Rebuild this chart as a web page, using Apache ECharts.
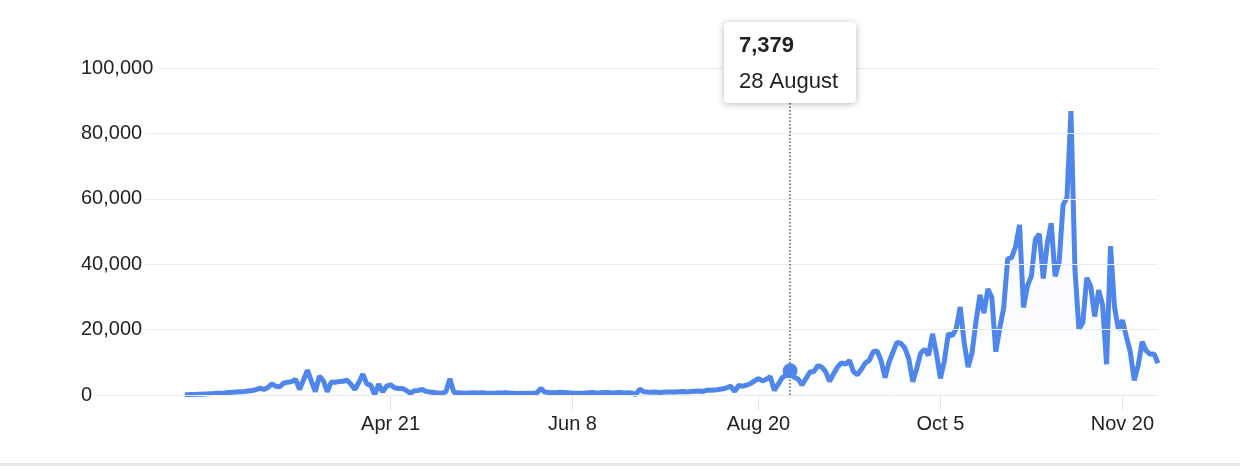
<!DOCTYPE html>
<html><head><meta charset="utf-8">
<script src="https://cdn.jsdelivr.net/npm/echarts@6/dist/echarts.min.js"></script>
<style>html,body{margin:0;padding:0;background:#fff}#c{width:1240px;height:466px}</style>
</head><body><div id="c"></div>
<script>
// Daily values, one per reported day (index 0 .. 246)
const values = [
  100,130,170,200,250,300,350,420,500,560,
  650,750,820,900,1000,1100,1250,1400,1600,2100,
  1700,2300,3400,2700,2500,3700,3900,4100,4800,1700,
  4600,7600,4200,1000,5800,4400,1000,4000,3900,4100,
  4200,4500,3300,1700,3900,6400,3400,3000,100,3300,
  1000,2700,3100,2200,2000,2000,1400,500,1300,1400,
  1700,1100,900,800,600,500,1000,5000,800,700,
  600,500,600,700,650,700,600,550,500,600,
  650,700,600,550,450,500,450,500,450,700,
  2000,900,800,700,750,850,800,700,650,500,
  550,600,700,750,650,700,800,750,650,700,
  750,650,700,600,100,1800,1000,900,850,900,
  800,850,900,950,900,1000,1050,950,1100,1150,
  1200,1100,1500,1450,1500,1700,1900,2200,2700,1100,
  2900,2700,3000,3500,4300,5000,4300,4800,5600,1400,
  3300,5300,6100,7379,5453,4897,3082,4982,7017,7157,
  8975,8550,7071,4203,6544,8577,9843,9406,10561,7183,
  6158,7852,9784,10593,13215,13498,10569,5298,10008,13072,
  16096,15797,14412,11123,4070,8051,12845,13970,12148,18700,
  12565,5084,10489,18746,18129,20339,26896,16101,8505,12993,
  22591,30621,25086,32427,29837,13243,20468,26676,41622,42032,
  45422,52010,26771,33417,36437,47637,49215,35641,46290,52518,
  36330,40558,58046,60486,86852,38619,20155,22180,35879,33172,
  24000,32095,27500,9406,45522,27000,20000,22882,17881,13157,
  4452,9155,16282,13563,12459,12580,9700
];
const tickIndex  = [52, 98, 145, 191, 237];
const tickLabels = ['Apr 21', 'Jun 8', 'Aug 20', 'Oct 5', 'Nov 20'];
const yMax = 100000, yStep = 20000;
const hlIndex = 153;
const hlLabel = '28 August';

const FONT = '"Liberation Sans", Arial, Helvetica, sans-serif';
const BLUE = '#4f86ec';
const fmt = v => Number(v).toLocaleString('en-US');

const chart = echarts.init(document.getElementById('c'), null, {renderer: 'canvas'});
const lineData = values.map((v, i) => [i, v]);

chart.setOption({
  animation: false,
  backgroundColor: '#fff',
  grid: {left: 80, right: 82, top: 68, bottom: 71},
  xAxis: {
    type: 'value',
    min: -26.5,
    max: values.length - 1,
    axisLine: {show: false},
    splitLine: {show: false},
    axisTick: {show: true, customValues: tickIndex, length: 15, lineStyle: {color: '#e3e3e3', width: 1}},
    axisLabel: {
      customValues: tickIndex,
      margin: 19,
      color: '#222',
      fontSize: 20,
      fontFamily: FONT,
      formatter: v => tickLabels[tickIndex.indexOf(Math.round(v))] || ''
    }
  },
  yAxis: {
    type: 'value',
    min: 0, max: yMax, interval: yStep,
    axisLine: {show: false},
    axisTick: {show: false},
    splitLine: {lineStyle: {color: '#ebebeb', width: 1}},
    axisLabel: {
      inside: true,
      margin: 1,
      color: '#222',
      fontSize: 20,
      fontFamily: FONT,
      backgroundColor: '#fff',
      padding: [2, 3, 2, 0],
      formatter: v => fmt(v)
    },
    z: 5
  },
  series: [
    {
      type: 'line',
      data: lineData,
      showSymbol: false,
      lineStyle: {color: BLUE, width: 5},
      areaStyle: {
        color: new echarts.graphic.LinearGradient(0, 0, 0, 1, [
          {offset: 0, color: 'rgba(79,134,236,0.07)'},
          {offset: 1, color: 'rgba(79,134,236,0.02)'}
        ])
      },
      markLine: {
        silent: true,
        symbol: ['none', 'none'],
        label: {show: false},
        lineStyle: {color: '#555', type: [1.5, 2], width: 1.5},
        data: [{xAxis: hlIndex}]
      },
      z: 2
    },
    {
      type: 'scatter',
      data: [[hlIndex, values[hlIndex]]],
      symbolSize: 15,
      itemStyle: {color: BLUE, opacity: 1},
      z: 6
    }
  ]
});

const p = chart.convertToPixel({gridIndex: 0}, [hlIndex, values[hlIndex]]);
const boxW = 132, boxH = 81, boxX = Math.round(p[0] - 66), boxY = 22;
chart.setOption({
  graphic: [
    {
      type: 'group', left: boxX, top: boxY, z: 100, zlevel: 1,
      children: [
        {type: 'rect', z: 100, zlevel: 1, shape: {x: 0, y: 0, width: boxW, height: boxH, r: 4},
         style: {fill: '#fff', shadowBlur: 7, shadowColor: 'rgba(0,0,0,0.28)', shadowOffsetY: 1}},
        {type: 'text', z: 101, zlevel: 1, x: 15, y: 24,
         style: {text: fmt(values[hlIndex]), font: 'bold 22px ' + FONT, fill: '#222', textVerticalAlign: 'middle'}},
        {type: 'text', z: 101, zlevel: 1, x: 15, y: 60,
         style: {text: hlLabel, font: '22px ' + FONT, fill: '#222', textVerticalAlign: 'middle'}}
      ]
    },
    {type: 'rect', left: 0, top: 463, z: 100,
     shape: {width: chart.getWidth(), height: 3}, style: {fill: '#e8e8e8'}}
  ]
});
</script>
</body></html>
